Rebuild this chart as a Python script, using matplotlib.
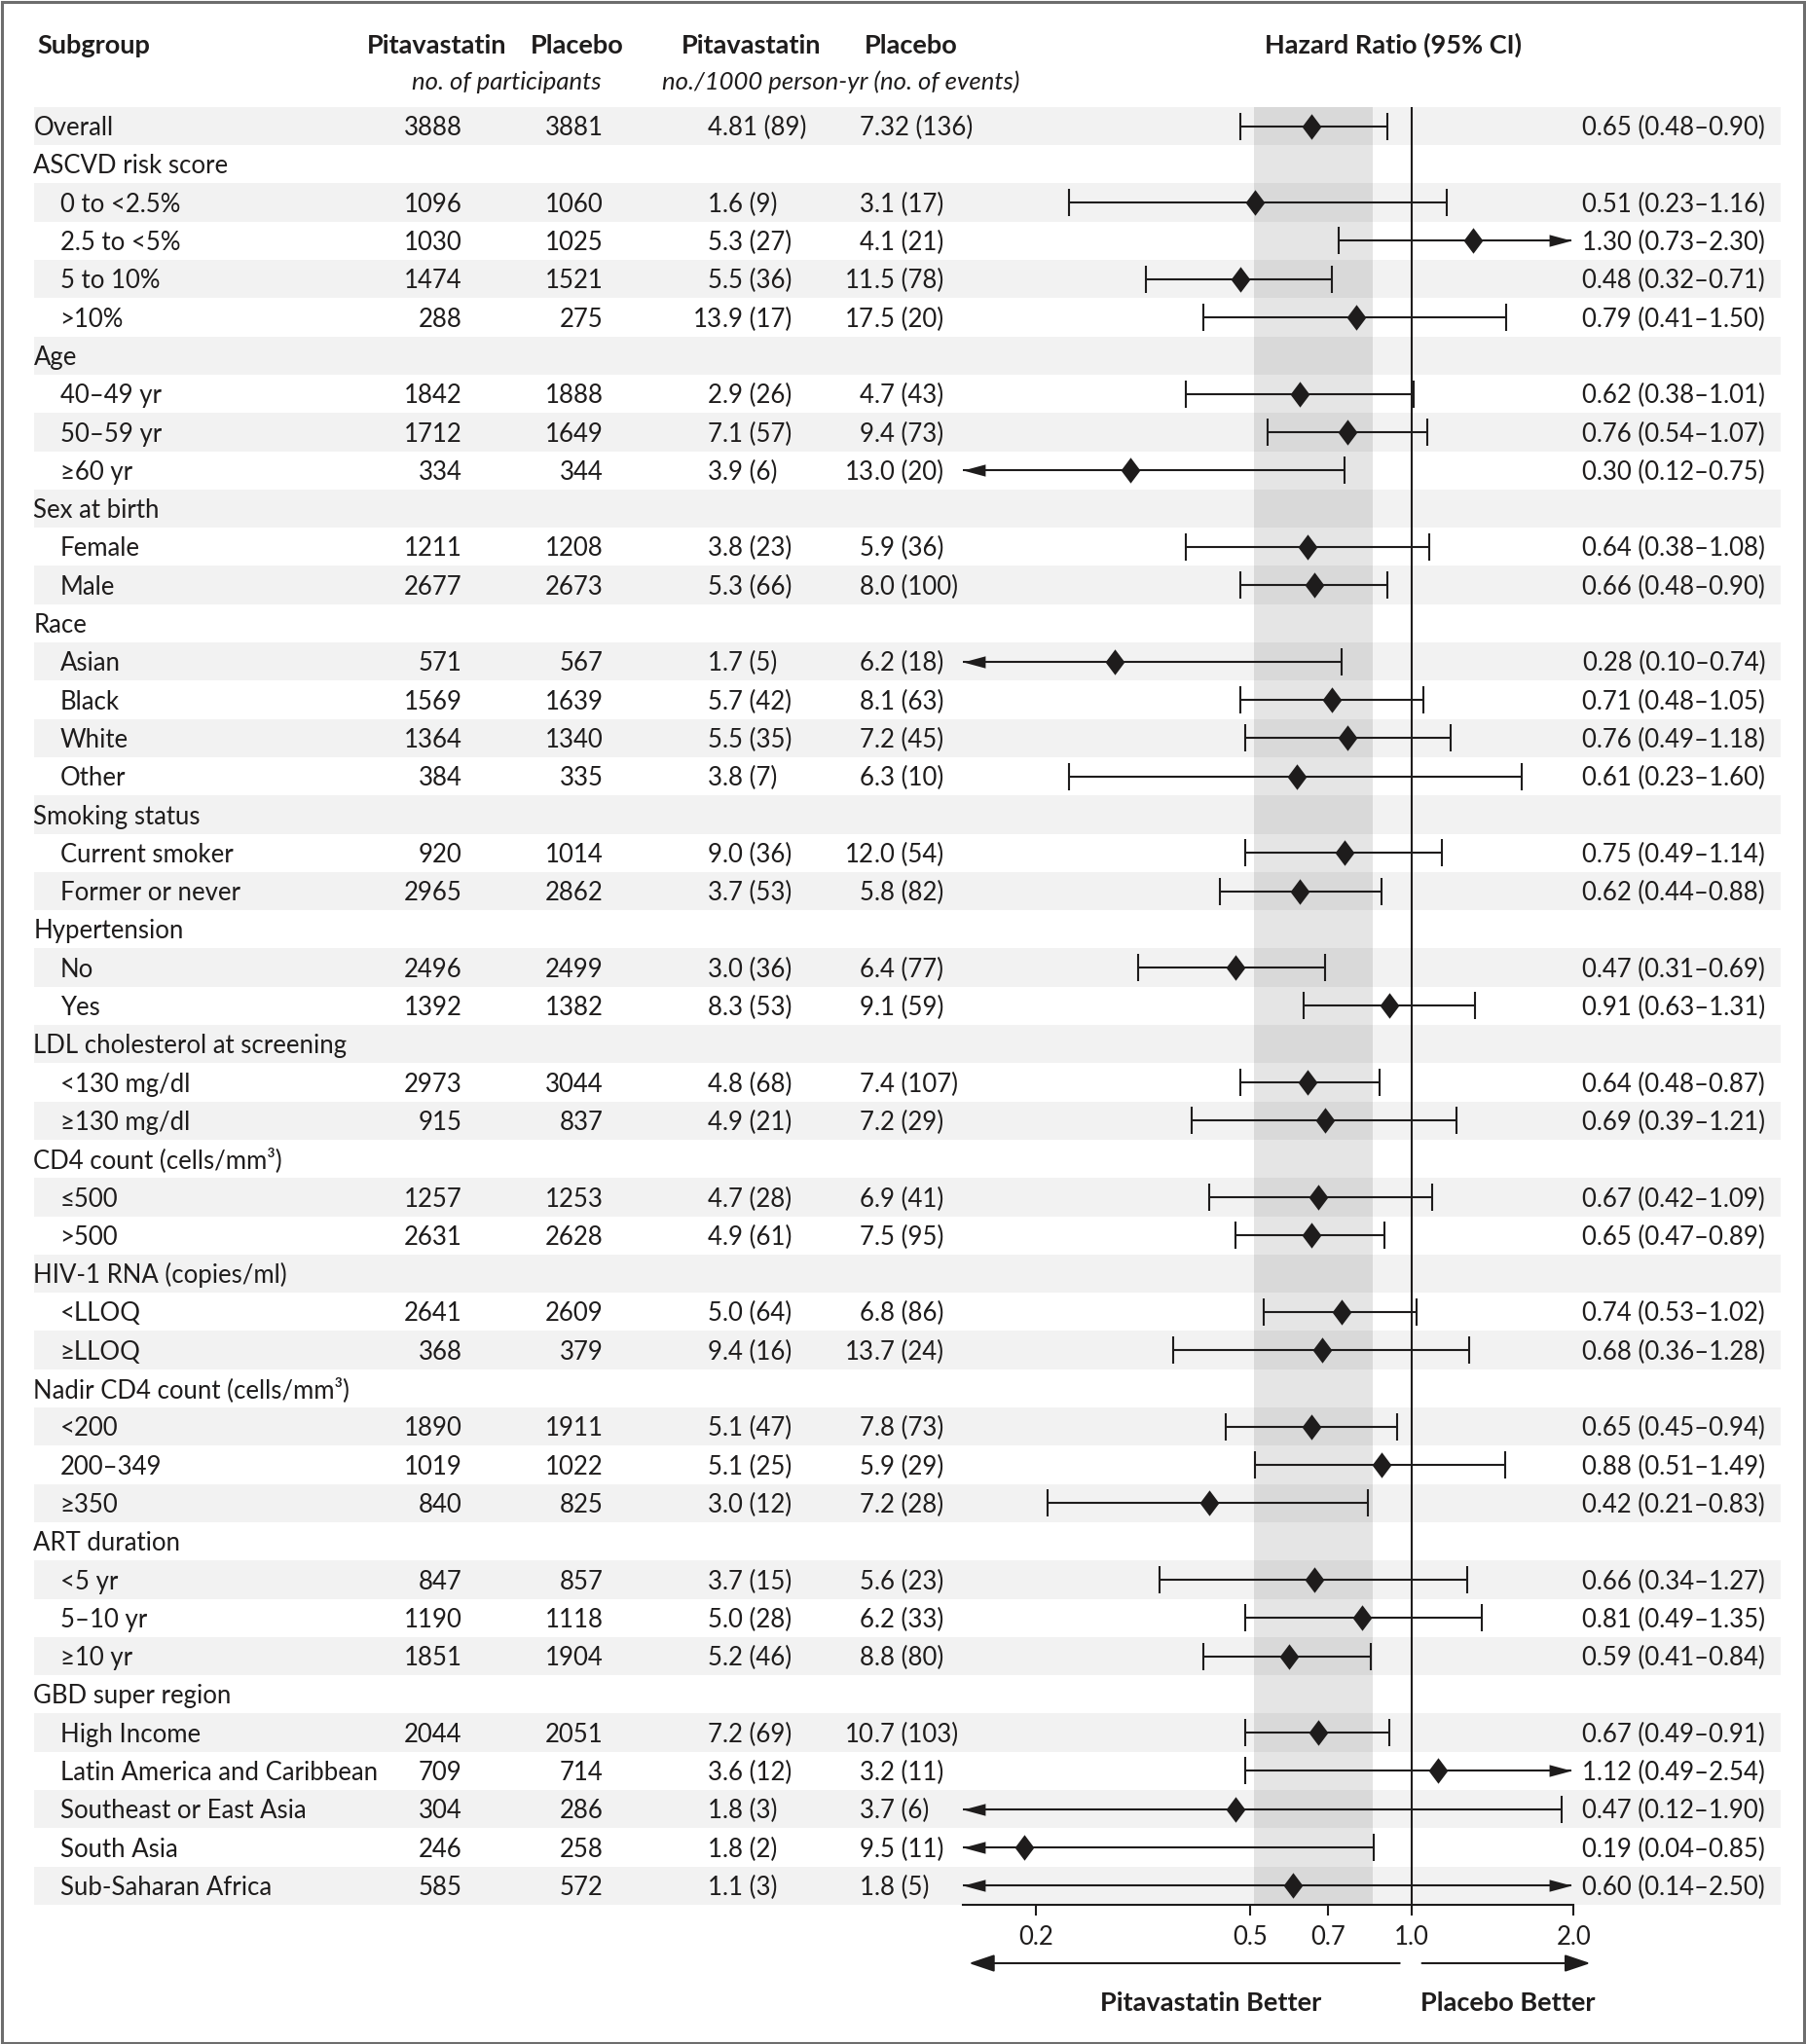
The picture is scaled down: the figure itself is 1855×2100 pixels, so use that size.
import math
import matplotlib
matplotlib.use("Agg")
import matplotlib.pyplot as plt
from matplotlib.path import Path
from matplotlib.patches import Rectangle
from matplotlib.ticker import NullLocator

plt.rcParams['font.family'] = ['Lato', 'DejaVu Sans']

# ---- data ----
labels = ["Overall", "ASCVD risk score", "0 to <2.5%", "2.5 to <5%", "5 to 10%", ">10%",
          "Age", "40\u201349 yr", "50\u201359 yr", "\u226560 yr",
          "Sex at birth", "Female", "Male",
          "Race", "Asian", "Black", "White", "Other",
          "Smoking status", "Current smoker", "Former or never",
          "Hypertension", "No", "Yes",
          "LDL cholesterol at screening", "<130 mg/dl", "\u2265130 mg/dl",
          "CD4 count (cells/mm\u00b3)", "\u2264500", ">500",
          "HIV-1 RNA (copies/ml)", "<LLOQ", "\u2265LLOQ",
          "Nadir CD4 count (cells/mm\u00b3)", "<200", "200\u2013349", "\u2265350",
          "ART duration", "<5 yr", "5\u201310 yr", "\u226510 yr",
          "GBD super region", "High Income", "Latin America and Caribbean",
          "Southeast or East Asia", "South Asia", "Sub-Saharan Africa"]

n_pita = [3888, None, 1096, 1030, 1474, 288, None, 1842, 1712, 334, None, 1211, 2677,
          None, 571, 1569, 1364, 384, None, 920, 2965, None, 2496, 1392, None, 2973, 915,
          None, 1257, 2631, None, 2641, 368, None, 1890, 1019, 840, None, 847, 1190, 1851,
          None, 2044, 709, 304, 246, 585]
n_plac = [3881, None, 1060, 1025, 1521, 275, None, 1888, 1649, 344, None, 1208, 2673,
          None, 567, 1639, 1340, 335, None, 1014, 2862, None, 2499, 1382, None, 3044, 837,
          None, 1253, 2628, None, 2609, 379, None, 1911, 1022, 825, None, 857, 1118, 1904,
          None, 2051, 714, 286, 258, 572]
rate_pita = ["4.81", None, "1.6", "5.3", "5.5", "13.9", None, "2.9", "7.1", "3.9", None,
             "3.8", "5.3", None, "1.7", "5.7", "5.5", "3.8", None, "9.0", "3.7", None,
             "3.0", "8.3", None, "4.8", "4.9", None, "4.7", "4.9", None, "5.0", "9.4", None,
             "5.1", "5.1", "3.0", None, "3.7", "5.0", "5.2", None, "7.2", "3.6", "1.8",
             "1.8", "1.1"]
ev_pita = [89, None, 9, 27, 36, 17, None, 26, 57, 6, None, 23, 66, None, 5, 42, 35, 7,
           None, 36, 53, None, 36, 53, None, 68, 21, None, 28, 61, None, 64, 16, None,
           47, 25, 12, None, 15, 28, 46, None, 69, 12, 3, 2, 3]
rate_plac = ["7.32", None, "3.1", "4.1", "11.5", "17.5", None, "4.7", "9.4", "13.0", None,
             "5.9", "8.0", None, "6.2", "8.1", "7.2", "6.3", None, "12.0", "5.8", None,
             "6.4", "9.1", None, "7.4", "7.2", None, "6.9", "7.5", None, "6.8", "13.7", None,
             "7.8", "5.9", "7.2", None, "5.6", "6.2", "8.8", None, "10.7", "3.2", "3.7",
             "9.5", "1.8"]
ev_plac = [136, None, 17, 21, 78, 20, None, 43, 73, 20, None, 36, 100, None, 18, 63, 45, 10,
           None, 54, 82, None, 77, 59, None, 107, 29, None, 41, 95, None, 86, 24, None,
           73, 29, 28, None, 23, 33, 80, None, 103, 11, 6, 11, 5]
hr = [0.65, None, 0.51, 1.30, 0.48, 0.79, None, 0.62, 0.76, 0.30, None, 0.64, 0.66, None,
      0.28, 0.71, 0.76, 0.61, None, 0.75, 0.62, None, 0.47, 0.91, None, 0.64, 0.69, None,
      0.67, 0.65, None, 0.74, 0.68, None, 0.65, 0.88, 0.42, None, 0.66, 0.81, 0.59, None,
      0.67, 1.12, 0.47, 0.19, 0.60]
ci_lo = [0.48, None, 0.23, 0.73, 0.32, 0.41, None, 0.38, 0.54, 0.12, None, 0.38, 0.48, None,
         0.10, 0.48, 0.49, 0.23, None, 0.49, 0.44, None, 0.31, 0.63, None, 0.48, 0.39, None,
         0.42, 0.47, None, 0.53, 0.36, None, 0.45, 0.51, 0.21, None, 0.34, 0.49, 0.41, None,
         0.49, 0.49, 0.12, 0.04, 0.14]
ci_hi = [0.90, None, 1.16, 2.30, 0.71, 1.50, None, 1.01, 1.07, 0.75, None, 1.08, 0.90, None,
         0.74, 1.05, 1.18, 1.60, None, 1.14, 0.88, None, 0.69, 1.31, None, 0.87, 1.21, None,
         1.09, 0.89, None, 1.02, 1.28, None, 0.94, 1.49, 0.83, None, 1.27, 1.35, 0.84, None,
         0.91, 2.54, 1.90, 0.85, 2.50]

xticks = [0.2, 0.5, 0.7, 1.0, 2.0]
xtick_labels = ["0.2", "0.5", "0.7", "1.0", "2.0"]
xmin, xmax = 0.146, 2.0
arrow_hi = 1.98          # where right-pointing CI arrows stop
band = (0.508, 0.848)

# ---- layout ----
W, H = 1855, 2100
ink = "#1e1c1c"
fs = 18.5
fs_hdr = 19.5
row_top, row_bot = 109.85, 1957.0   # pixel rows (from top) of the table body
nrows = len(labels)
base_off = 0.245                     # baseline offset in row units

fig = plt.figure(figsize=(W / 100, H / 100), dpi=100)
fig.patch.set_facecolor("white")
pos_bottom = 1 - row_bot / H
pos_height = (row_bot - row_top) / H

# background / table axes, x in pixels
bg = fig.add_axes([0, pos_bottom, 1, pos_height], zorder=0)
bg.set_xlim(0, W)
bg.set_ylim(nrows - 0.5, -0.5)
bg.axis("off")

for i, lab in enumerate(labels):
    if i % 2 == 0:
        bg.axhspan(i - 0.5, i + 0.5, xmin=35 / W, xmax=1828.5 / W, color="#f2f2f2", lw=0)
    y = i + base_off
    indent = 61.6 if (hr[i] is not None and i != 0) else 34.5
    bg.text(indent, y, lab, fontsize=fs, color=ink, ha="left", va="baseline")
    if hr[i] is None:
        continue
    bg.text(474.5, y, f"{n_pita[i]}", fontsize=fs, color=ink, ha="right", va="baseline")
    bg.text(619.5, y, f"{n_plac[i]}", fontsize=fs, color=ink, ha="right", va="baseline")
    for xd, r, ev in ((742, rate_pita[i], ev_pita[i]), (898, rate_plac[i], ev_plac[i])):
        whole, frac = r.split(".")
        bg.text(xd, y, whole, fontsize=fs, color=ink, ha="right", va="baseline")
        bg.text(xd, y, f".{frac} ({ev})", fontsize=fs, color=ink, ha="left", va="baseline")
    bg.text(1813, y, f"{hr[i]:.2f} ({ci_lo[i]:.2f}\u2013{ci_hi[i]:.2f})", fontsize=fs,
            color=ink, ha="right", va="baseline")

# ---- forest axes (1.0 at x=1450 px, 552 px per decade) ----
left_px = 1450 + 552 * math.log10(xmin)
right_px = 1450 + 552 * math.log10(xmax)
ax = fig.add_axes([left_px / W, pos_bottom, (right_px - left_px) / W, pos_height], zorder=1)
ax.patch.set_alpha(0)
ax.set_xscale("log")
ax.set_xlim(xmin, xmax)
ax.set_ylim(nrows - 0.5, -0.5)
for s in ("top", "left", "right"):
    ax.spines[s].set_visible(False)
ax.spines["bottom"].set_linewidth(1.5)
ax.spines["bottom"].set_color(ink)
ax.set_yticks([])
ax.set_xticks(xticks)
ax.set_xticklabels(xtick_labels)
ax.xaxis.set_minor_locator(NullLocator())
ax.tick_params(axis="x", direction="out", length=8, width=1.5, color=ink,
               labelsize=fs, labelcolor=ink, pad=7)

ax.axvspan(band[0], band[1], color="black", alpha=0.1, lw=0, zorder=0)
ax.axvline(1.0, color=ink, lw=1.5, zorder=1)

diamond = Path([(0, 1), (0.75, 0), (0, -1), (-0.75, 0), (0, 1)], closed=True)
head_r = Path([(0, 0), (-1, 0.27), (-1, -0.27), (0, 0)], closed=True)
head_l = Path([(0, 0), (1, 0.27), (1, -0.27), (0, 0)], closed=True)

for i in range(nrows):
    if hr[i] is None:
        continue
    lo = max(ci_lo[i], xmin)
    hi = ci_hi[i] if ci_hi[i] <= xmax else arrow_hi
    ax.plot([lo, hi], [i, i], color=ink, lw=1.5, solid_capstyle="butt", zorder=2)
    if ci_lo[i] >= xmin:
        ax.plot([lo], [i], marker="|", ms=20, mew=1.5, color=ink, zorder=2)
    else:
        ax.plot([lo], [i], marker=head_l, ms=33, mew=0, color=ink, zorder=2)
    if ci_hi[i] <= xmax:
        ax.plot([hi], [i], marker="|", ms=20, mew=1.5, color=ink, zorder=2)
    else:
        ax.plot([hi], [i], marker=head_r, ms=33, mew=0, color=ink, zorder=2)
    ax.plot([hr[i]], [i], marker=diamond, ms=19, mew=0, color=ink, zorder=3)

# direction arrows under the axis
arrow_y = H - 2017
aprops = dict(arrowstyle="-|>,head_length=0.8,head_width=0.27", mutation_scale=20,
              lw=1.5, color=ink, shrinkA=0, shrinkB=0)
ax.annotate("", xy=(0.15, arrow_y), xytext=(0.95, arrow_y),
            xycoords=("data", "figure pixels"), textcoords=("data", "figure pixels"),
            arrowprops=aprops, annotation_clip=False)
ax.annotate("", xy=(2.15, arrow_y), xytext=(1.045, arrow_y),
            xycoords=("data", "figure pixels"), textcoords=("data", "figure pixels"),
            arrowprops=aprops, annotation_clip=False)


def px(x, y):
    return x / W, 1 - y / H


fig.text(*px(1244, 2066), "Pitavastatin Better", fontsize=fs_hdr, fontweight="bold",
         color=ink, ha="center", va="baseline")
fig.text(*px(1549, 2066), "Placebo Better", fontsize=fs_hdr, fontweight="bold",
         color=ink, ha="center", va="baseline")

# ---- column headers ----
hdr = dict(fontsize=fs_hdr, fontweight="bold", color=ink, va="baseline")
fig.text(*px(38.6, 55), "Subgroup", ha="left", **hdr)
fig.text(*px(449, 55), "Pitavastatin", ha="center", **hdr)
fig.text(*px(593, 55), "Placebo", ha="center", **hdr)
fig.text(*px(772, 55), "Pitavastatin", ha="center", **hdr)
fig.text(*px(936, 55), "Placebo", ha="center", **hdr)
fig.text(*px(1431, 55), "Hazard Ratio (95% CI)", ha="center", **hdr)
sub = dict(fontsize=fs, fontstyle="italic", color=ink, va="baseline", ha="center")
fig.text(*px(520.5, 92), "no. of participants", **sub)
fig.text(*px(863.6, 92), "no./1000 person-yr (no. of events)", **sub)

# frame
fig.patches.append(Rectangle((1.5 / W, 1.5 / H), (1852.5 - 1.5) / W, (2098 - 1.5) / H,
                             transform=fig.transFigure, fill=False, lw=2.2,
                             edgecolor="#6d6d6d", zorder=10))

fig.savefig("out.png", dpi=100)
